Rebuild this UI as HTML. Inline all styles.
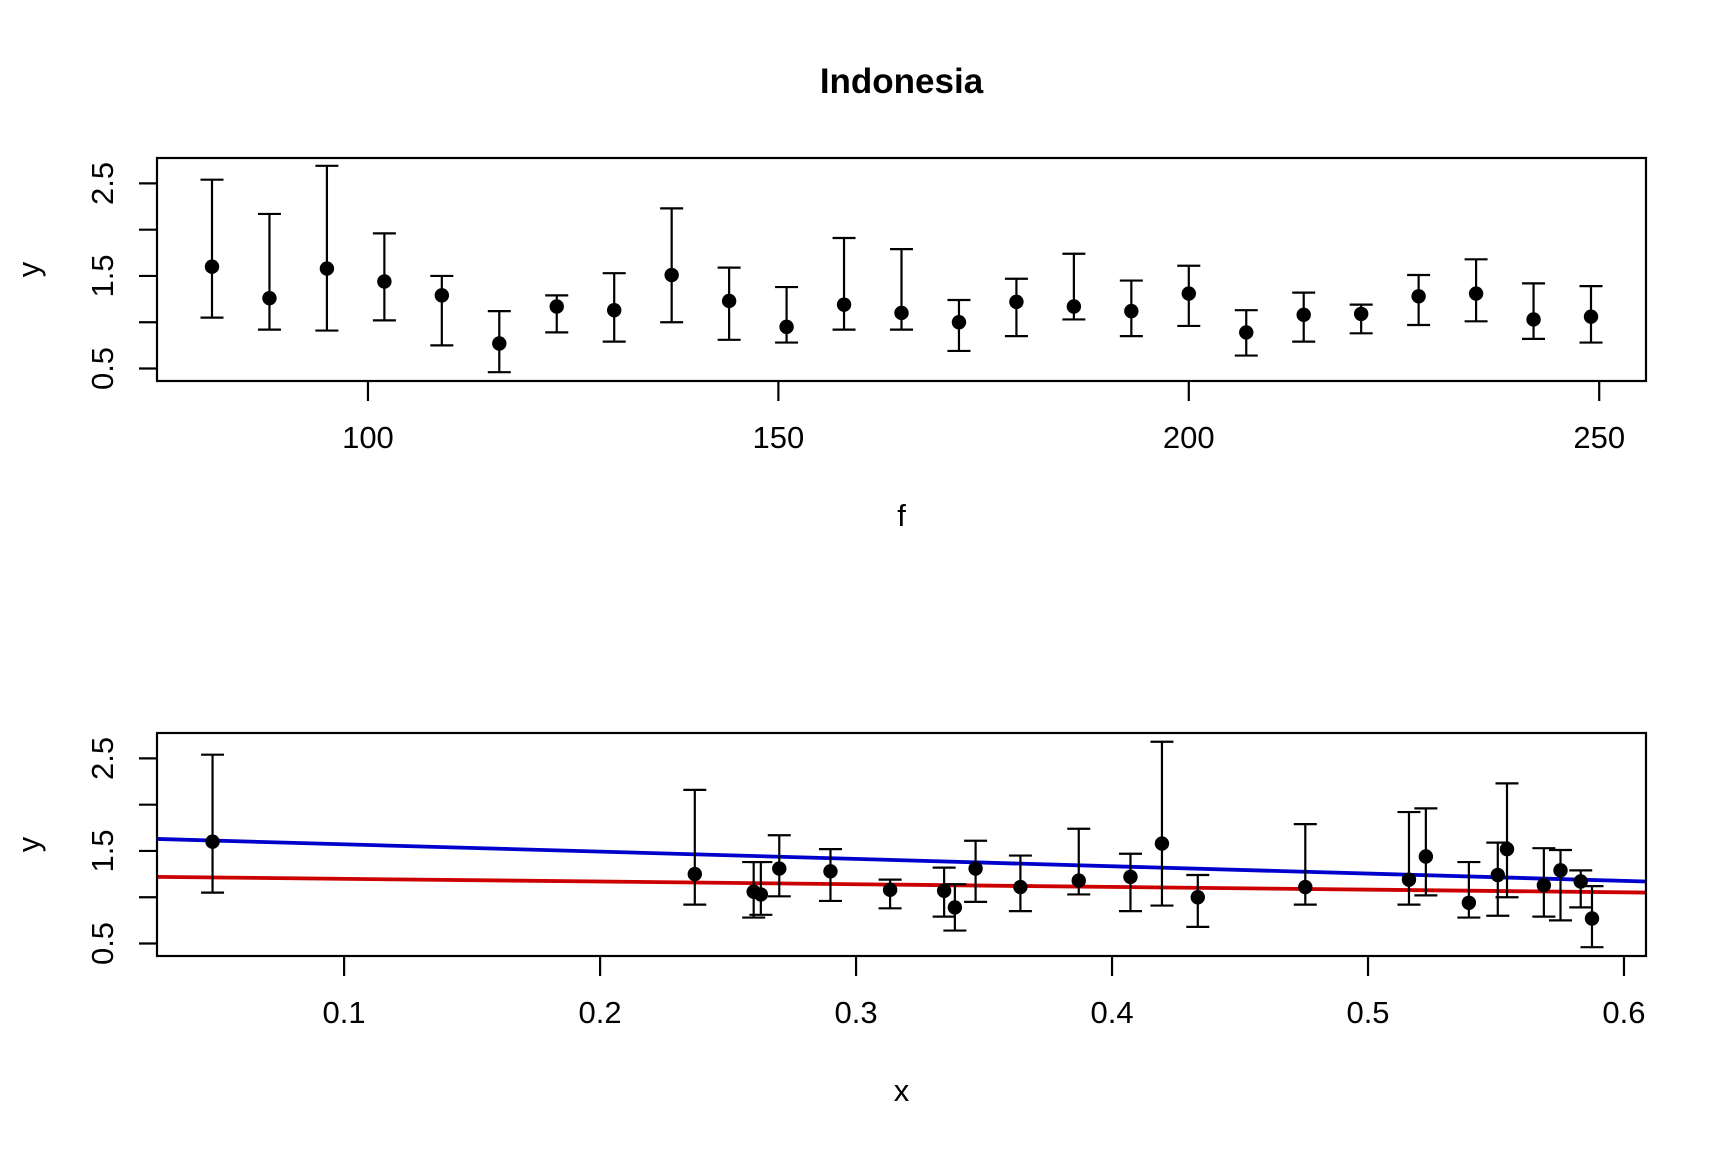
<!DOCTYPE html>
<html><head><meta charset="utf-8"><title>Indonesia</title>
<style>html,body{margin:0;padding:0;background:#fff}svg{display:block}text{font-family:"Liberation Sans",sans-serif}</style>
</head><body>
<svg id="chart" width="1728" height="1152" viewBox="0 0 1728 1152" xmlns="http://www.w3.org/2000/svg"></svg>
<script>
// Top panel data (f vs y with error bars)
const topF = [81,88,95,102,109,116,123,130,137,144,151,158,165,172,179,186,193,200,207,214,221,228,235,242,249];
const topY = [1.60,1.26,1.58,1.44,1.29,0.77,1.17,1.13,1.51,1.23,0.95,1.19,1.10,1.00,1.22,1.17,1.12,1.31,0.89,1.08,1.09,1.28,1.31,1.03,1.06];
const topHi = [2.54,2.17,2.69,1.96,1.50,1.12,1.29,1.53,2.23,1.59,1.38,1.91,1.79,1.24,1.47,1.74,1.45,1.61,1.13,1.32,1.19,1.51,1.68,1.42,1.39];
const topLo = [1.05,0.92,0.91,1.02,0.75,0.46,0.89,0.79,1.00,0.81,0.78,0.92,0.92,0.69,0.85,1.03,0.85,0.96,0.64,0.79,0.88,0.97,1.01,0.82,0.78];
const topXTicks = [100,150,200,250];
// Bottom panel data (x vs y with error bars)
const botX = [0.0486,0.237,0.260,0.2628,0.270,0.290,0.3133,0.3344,0.3386,0.3467,0.3642,0.387,0.4072,0.4195,0.4335,0.4755,0.516,0.5226,0.5394,0.5507,0.5543,0.5687,0.5752,0.5831,0.5875];
const botY = [1.60,1.25,1.06,1.03,1.31,1.28,1.08,1.07,0.89,1.31,1.11,1.18,1.22,1.58,1.00,1.11,1.19,1.44,0.94,1.24,1.52,1.13,1.29,1.17,0.77];
const botHi = [2.54,2.16,1.38,1.38,1.67,1.52,1.19,1.32,1.14,1.61,1.45,1.74,1.47,2.68,1.24,1.79,1.92,1.96,1.38,1.59,2.23,1.53,1.51,1.29,1.12];
const botLo = [1.05,0.92,0.78,0.81,1.01,0.96,0.88,0.79,0.64,0.95,0.85,1.03,0.85,0.91,0.68,0.92,0.92,1.02,0.78,0.80,1.00,0.79,0.75,0.89,0.46];
const botXTicks = [0.1,0.2,0.3,0.4,0.5,0.6];
const botXLabels = ["0.1","0.2","0.3","0.4","0.5","0.6"];
const yTicks = [0.5,1.0,1.5,2.0,2.5];
const yTickLabels = ["0.5","","1.5","","2.5"];
const blueLine = [1.651,-0.791]; // intercept, slope
const redLine = [1.228,-0.292];

const NS="http://www.w3.org/2000/svg";
const svg=document.getElementById('chart');
function mk(tag,attrs,parent,txt){const e=document.createElementNS(NS,tag);for(const k in attrs)e.setAttribute(k,attrs[k]);if(txt!==undefined)e.textContent=txt;(parent||svg).appendChild(e);return e;}

const L=157,R=1646;
function panel(name,top,bottom,xmin,xmax,xs,ys,his,los,xt,xtl,xlabel,lines){
  const g=mk('g',{});
  
  
  const y25=top+25.4, y05=bottom-12.5;
  const sy=v=>y05-(v-0.5)*(y05-y25)/2;
  const sx=v=>L+(v-xmin)*(R-L)/(xmax-xmin);
  const cid='clip-'+name;
  const defs=mk('defs',{},g);const cp=mk('clipPath',{id:cid},defs);mk('rect',{x:L,y:top,width:R-L,height:bottom-top},cp);
  lines.forEach((ln,i)=>{
    const p=mk('line',{x1:sx(xmin),y1:sy(ln.c[0]+ln.c[1]*xmin),x2:sx(xmax),y2:sy(ln.c[0]+ln.c[1]*xmax),stroke:ln.col,'stroke-width':3.8,'clip-path':'url(#'+cid+')'},g);
    
    
  });
  xs.forEach((xv,i)=>{
    const x=sx(xv);
    const eb=mk('g',{stroke:'#000','stroke-width':2.2},g);
    
    
    mk('line',{x1:x,x2:x,y1:sy(his[i]),y2:sy(los[i])},eb);
    mk('line',{x1:x-11.5,x2:x+11.5,y1:sy(his[i]),y2:sy(his[i])},eb);
    mk('line',{x1:x-11.5,x2:x+11.5,y1:sy(los[i]),y2:sy(los[i])},eb);
    const c=mk('circle',{cx:x,cy:sy(ys[i]),r:7.2,fill:'#000'},g);
    
    
  });
  const box=mk('rect',{x:L,y:top,width:R-L,height:bottom-top,fill:'none',stroke:'#000','stroke-width':2.2},g);
  
  
  xt.forEach((t,i)=>{
    const x=sx(t);
    mk('line',{x1:x,x2:x,y1:bottom,y2:bottom+20,stroke:'#000','stroke-width':2.2},g);
    const tl=mk('text',{x:x,y:bottom+67,'font-size':31,'text-anchor':'middle'},g,xtl[i]);
    
    
  });
  yTicks.forEach((t,i)=>{
    const y=sy(t);
    mk('line',{x1:L,x2:L-18,y1:y,y2:y,stroke:'#000','stroke-width':2.2},g);
    if(yTickLabels[i]){
      const tl=mk('text',{x:0,y:0,'font-size':31,'text-anchor':'middle',transform:`translate(113,${y}) rotate(-90)`},g,yTickLabels[i]);
      
      
    }
  });
  const xl=mk('text',{x:(L+R)/2,y:bottom+145,'font-size':31,'text-anchor':'middle'},g,xlabel);
  
  
  const yl=mk('text',{x:0,y:0,'font-size':31,'text-anchor':'middle',transform:`translate(39,${(top+bottom)/2}) rotate(-90)`},g,'y');
  
  
}
const title=mk('text',{x:(L+R)/2,y:93,'font-size':35,'font-weight':'bold','text-anchor':'middle'},svg,'Indonesia');



panel('top-panel',158,381,74.3,255.7,topF,topY,topHi,topLo,topXTicks,topXTicks.map(String),'f',[]);
panel('bottom-panel',733,956,0.0269,0.6086,botX,botY,botHi,botLo,botXTicks,botXLabels,'x',
  [{c:blueLine,col:'#0000cc',name:'blue-fit-line'},{c:redLine,col:'#cc0000',name:'red-fit-line'}]);
</script>
</body></html>
